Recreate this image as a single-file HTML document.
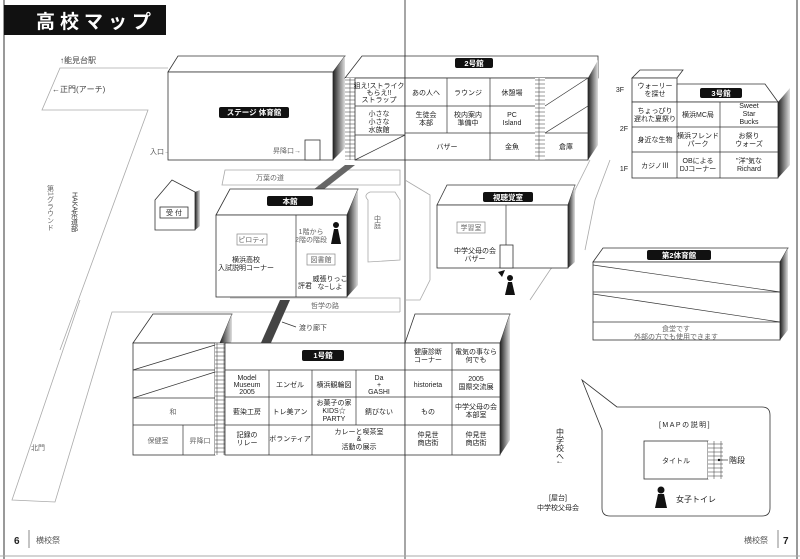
<!DOCTYPE html>
<html><head><meta charset="utf-8"><style>
html,body{margin:0;padding:0;background:#fff;}
svg{display:block;font-family:"Liberation Sans","Noto Sans CJK JP",sans-serif;}
.t{font-size:7px;fill:#222;text-anchor:middle;}
.g{font-size:7px;fill:#666;text-anchor:middle;}
.w{font-size:7.5px;fill:#fff;text-anchor:middle;font-weight:bold;}
.b{fill:#fff;stroke:#333;stroke-width:0.8;}
.l{stroke:#333;stroke-width:0.7;fill:none;}
.r{fill:none;stroke:#aaa;stroke-width:0.8;}
</style></head><body>
<svg width="800" height="559" viewBox="0 0 800 559">
<defs>
<linearGradient id="sd" x1="0" x2="1"><stop offset="0" stop-color="#222"/><stop offset="1" stop-color="#ddd"/></linearGradient>
<pattern id="st" width="7" height="4" patternUnits="userSpaceOnUse"><rect width="7" height="4" fill="#fff" stroke="#333" stroke-width="0.5"/></pattern>
</defs>
<line x1="4" y1="0" x2="4" y2="559" stroke="#999" stroke-width="2"/>
<line x1="797" y1="0" x2="797" y2="559" stroke="#999" stroke-width="2"/>
<line x1="405" y1="0" x2="405" y2="559" stroke="#888" stroke-width="1.5"/>
<line x1="0" y1="556" x2="800" y2="556" stroke="#aaa" stroke-width="1"/>
<rect x="4" y="5" width="162" height="30" fill="#111"/>
<text x="36" y="28" font-size="19" font-weight="bold" fill="#fff" letter-spacing="5">高校マップ</text>
<text x="60" y="63" font-size="8" fill="#444">↑能見台駅</text>
<text x="52" y="92" font-size="8" fill="#444">←正門(アーチ)</text>
<polyline class="r" points="168,68 60,68 42,110 148,110 60,350"/>
<polyline class="r" points="80,300 12,500 55,502 112,312 400,312"/>
<text x="38" y="450" class="g" font-size="8">北門</text>
<text x="150" y="154" font-size="7" fill="#555">入口→</text>
<text x="50" y="185" font-size="7" fill="#666" writing-mode="tb">第1グラウンド</text>
<text x="74" y="192" font-size="7" fill="#333" writing-mode="tb">HAKA茶道部</text>
<path class="r" d="M225,170 L400,170 L400,185 L222,185 Z"/>
<text x="270" y="180" class="g">万葉の道</text>
<path class="r" d="M230,298 L400,298 L400,312"/>
<text x="325" y="308" class="g">哲学の路</text>
<path class="r" d="M368,200 Q363,195 370,192 L395,192 L400,200 L400,260 L368,262 Z"/>
<text x="377" y="222" class="g" writing-mode="tb">中庭</text>
<polyline class="r" points="405,180 430,195 430,280 420,300 405,300"/>
<polyline class="r" points="590,160 575,190 570,245 550,270 530,300"/>
<polyline class="r" points="610,160 595,200 585,250"/>
<polygon class="b" points="168,72 178,56 345,56 333,72"/>
<rect class="b" x="168" y="72" width="165" height="88"/>
<polygon points="333,72 345,56 345,148 333,160" fill="url(#sd)"/>
<rect x="219" y="107" width="70" height="11" rx="2" fill="#111"/>
<text x="254" y="115" class="w">ステージ 体育館</text>
<rect class="b" x="305" y="140" width="15" height="20"/>
<text x="287" y="153" class="g">昇降口→</text>
<polygon class="b" points="345,78 362,56 405,56 405,78"/>
<rect x="345" y="78" width="10" height="82" fill="url(#st)"/>
<rect class="b" x="355" y="78" width="50" height="82"/>
<line class="l" x1="355" y1="106" x2="405" y2="106"/><line class="l" x1="355" y1="135" x2="405" y2="135"/>
<line class="l" x1="355" y1="160" x2="405" y2="135"/>
<text x="379" y="88" class="t" font-size="6">狙え!ストライク</text><text x="379" y="95" class="t" font-size="6">もらえ!!</text><text x="379" y="102" class="t" font-size="6">ストラップ</text>
<text x="379" y="116" class="t">小さな</text><text x="379" y="124" class="t">小さな</text><text x="379" y="132" class="t">水族館</text>
<polygon points="345,165 355,165 323,190 313,190" fill="#666"/>
<polygon points="280,300 290,300 270,345 260,345" fill="#444"/>
<line class="l" x1="282" y1="322" x2="296" y2="327"/><text x="299" y="330" font-size="7" fill="#444">渡り廊下</text>
<polygon class="b" points="405,78 405,56 598,56 598,78"/>
<rect class="b" x="405" y="78" width="183" height="82"/>
<polygon points="588,78 598,60 598,145 588,160" fill="url(#sd)"/>
<rect x="455" y="58" width="38" height="10" rx="2" fill="#111"/><text x="474" y="66" class="w">2号館</text>
<line class="l" x1="405" y1="106" x2="545" y2="106"/><line class="l" x1="405" y1="133" x2="545" y2="133"/>
<line class="l" x1="447" y1="78" x2="447" y2="133"/><line class="l" x1="490" y1="78" x2="490" y2="160"/>
<rect x="535" y="78" width="10" height="82" fill="url(#st)"/>
<line class="l" x1="545" y1="133" x2="588" y2="133"/><line class="l" x1="545" y1="106" x2="588" y2="78"/><line class="l" x1="545" y1="133" x2="588" y2="106"/>
<text x="426" y="95" class="t">あの人へ</text><text x="468" y="95" class="t">ラウンジ</text><text x="512" y="95" class="t">休憩場</text>
<text x="426" y="117" class="t">生徒会</text><text x="426" y="125" class="t">本部</text>
<text x="468" y="117" class="t">校内案内</text><text x="468" y="125" class="t">準備中</text>
<text x="512" y="117" class="t">PC</text><text x="512" y="125" class="t">Island</text>
<text x="447" y="149" class="t">バザー</text><text x="512" y="149" class="t">金魚</text><text x="566" y="149" class="t">倉庫</text>
<polygon class="b" points="632,78 640,70 683,70 677,78"/>
<rect class="b" x="632" y="78" width="45" height="24"/>
<polygon class="b" points="677,102 677,84 765,84 778,102"/>
<rect class="b" x="632" y="102" width="146" height="76"/>
<polygon points="778,102 790,88 790,165 778,178" fill="url(#sd)"/>
<rect x="700" y="88" width="42" height="10" rx="2" fill="#111"/><text x="721" y="96" class="w">3号館</text>
<line class="l" x1="632" y1="127" x2="778" y2="127"/><line class="l" x1="632" y1="152" x2="778" y2="152"/>
<line class="l" x1="677" y1="102" x2="677" y2="178"/><line class="l" x1="720" y1="102" x2="720" y2="178"/>
<text x="620" y="92" class="t">3F</text><text x="624" y="131" class="t">2F</text><text x="624" y="171" class="t">1F</text>
<text x="655" y="88" class="t">ウォーリー</text><text x="655" y="96" class="t">を探せ</text>
<text x="655" y="113" class="t">ちょっぴり</text><text x="655" y="121" class="t">遅れた夏祭り</text>
<text x="698" y="117" class="t">横浜MC局</text>
<text x="749" y="108" class="t">Sweet</text><text x="749" y="116" class="t">Star</text><text x="749" y="124" class="t">Bucks</text>
<text x="655" y="142" class="t">身近な生物</text>
<text x="698" y="138" class="t">横浜フレンド</text><text x="698" y="146" class="t">パーク</text>
<text x="749" y="138" class="t">お祭り</text><text x="749" y="146" class="t">ウォーズ</text>
<text x="655" y="168" class="t">カジノⅢ</text>
<text x="698" y="163" class="t">OBによる</text><text x="698" y="171" class="t">DJコーナー</text>
<text x="749" y="163" class="t">"洋"気な</text><text x="749" y="171" class="t">Richard</text>
<polygon class="b" points="155,200 172,180 195,192 195,230 155,230"/>
<polygon points="195,192 200,190 200,226 195,230" fill="url(#sd)"/>
<rect class="b" x="160" y="207" width="28" height="11"/><text x="174" y="215" class="t">受 付</text>
<polygon class="b" points="216,215 230,189 358,189 347,215"/>
<rect class="b" x="216" y="215" width="131" height="82"/>
<polygon points="347,215 358,189 358,285 347,297" fill="url(#sd)"/>
<line class="l" x1="296" y1="215" x2="296" y2="297"/>
<rect x="267" y="196" width="46" height="10" rx="2" fill="#111"/><text x="290" y="204" class="w">本館</text>
<rect x="237" y="234" width="30" height="11" fill="#fff" stroke="#888" stroke-width="0.7"/><text x="252" y="242" class="g">ピロティ</text>
<text x="246" y="262" class="t">横浜高校</text><text x="246" y="270" class="t">入試説明コーナー</text>
<text x="311" y="234" class="g">1階から</text><text x="311" y="242" class="g">2階の階段</text>
<rect x="307" y="254" width="28" height="11" fill="#fff" stroke="#888" stroke-width="0.7"/><text x="321" y="262" class="g">図書館</text>
<text x="305" y="288" class="t">評君</text><text x="330" y="281" class="t">威張りっこ</text><text x="330" y="289" class="t">な~しよ</text>
<g fill="#111"><circle cx="336" cy="225" r="3"/><polygon points="331,244 341,244 338,229 334,229"/></g>
<polygon class="b" points="437,205 447,185 575,185 568,205"/>
<rect class="b" x="437" y="205" width="131" height="63"/>
<polygon points="568,205 575,185 575,262 568,268" fill="url(#sd)"/>
<line class="l" x1="506" y1="205" x2="506" y2="268"/>
<rect x="483" y="192" width="50" height="10" rx="2" fill="#111"/><text x="508" y="200" class="w">視聴覚室</text>
<rect x="457" y="222" width="28" height="11" fill="#fff" stroke="#888" stroke-width="0.7"/><text x="471" y="230" class="g">学習室</text>
<text x="475" y="253" class="t">中学父母の会</text><text x="475" y="261" class="t">バザー</text>
<rect class="b" x="500" y="245" width="13" height="23"/>
<g fill="#111"><circle cx="510" cy="278" r="3"/><polygon points="505,295 515,295 512,282 508,282"/><polygon points="498,272 505,270 502,277"/></g>
<polygon class="b" points="593,262 603,248 788,248 780,262"/>
<rect class="b" x="593" y="262" width="187" height="78"/>
<polygon points="780,262 788,248 788,330 780,340" fill="url(#sd)"/>
<line class="l" x1="593" y1="292" x2="780" y2="292"/><line class="l" x1="593" y1="322" x2="780" y2="322"/>
<line class="l" x1="593" y1="265" x2="780" y2="292"/><line class="l" x1="593" y1="294" x2="780" y2="322"/>
<rect x="647" y="250" width="64" height="10" rx="2" fill="#111"/><text x="679" y="258" class="w">第2体育館</text>
<text x="676" y="331" class="g" font-size="6.5">食堂です</text><text x="676" y="339" class="g" font-size="6.5">外部の方でも使用できます</text>
<polygon class="b" points="133,343 153,314 232,314 220,343"/>
<polygon points="220,343 232,314 232,340 222,370" fill="url(#sd)"/>
<rect class="b" x="133" y="343" width="82" height="112"/>
<rect x="215" y="343" width="10" height="112" fill="url(#st)"/>
<line class="l" x1="133" y1="370" x2="215" y2="370"/><line class="l" x1="133" y1="398" x2="215" y2="398"/><line class="l" x1="133" y1="425" x2="215" y2="425"/>
<line class="l" x1="133" y1="370" x2="215" y2="345"/><line class="l" x1="133" y1="398" x2="215" y2="372"/>
<line class="l" x1="183" y1="425" x2="183" y2="455"/>
<text x="173" y="414" class="g">和</text><text x="158" y="443" class="g">保健室</text><text x="200" y="443" class="g">昇降口</text>
<rect class="b" x="225" y="343" width="180" height="112"/>
<line class="l" x1="225" y1="370" x2="405" y2="370"/><line class="l" x1="225" y1="397" x2="405" y2="397"/><line class="l" x1="225" y1="425" x2="405" y2="425"/>
<line class="l" x1="269" y1="370" x2="269" y2="455"/><line class="l" x1="312" y1="370" x2="312" y2="455"/>
<line class="l" x1="356" y1="370" x2="356" y2="425"/>
<rect x="302" y="350" width="42" height="11" rx="2" fill="#111"/><text x="323" y="358" class="w">1号館</text>
<text x="247" y="380" class="t">Model</text><text x="247" y="387" class="t">Museum</text><text x="247" y="394" class="t">2005</text>
<text x="290" y="387" class="t">エンゼル</text><text x="334" y="387" class="t">横浜観輪図</text>
<text x="379" y="380" class="t">Da</text><text x="379" y="387" class="t">+</text><text x="379" y="394" class="t">GASHI</text>
<text x="247" y="414" class="t">藍染工房</text><text x="290" y="414" class="t">トレ美アン</text>
<text x="334" y="405" class="t">お菓子の家</text><text x="334" y="413" class="t">KIDS☆</text><text x="334" y="421" class="t">PARTY</text>
<text x="379" y="414" class="t">錆びない</text>
<text x="247" y="437" class="t">記録の</text><text x="247" y="445" class="t">リレー</text><text x="290" y="441" class="t">ボランティア</text>
<text x="359" y="434" class="t">カレーと喫茶室</text><text x="359" y="441" class="t">&amp;</text><text x="359" y="449" class="t">活動の展示</text>
<polygon class="b" points="405,343 415,314 510,314 500,343"/>
<rect class="b" x="405" y="343" width="95" height="112"/>
<polygon points="500,343 510,314 510,440 500,455" fill="url(#sd)"/>
<line class="l" x1="405" y1="370" x2="500" y2="370"/><line class="l" x1="405" y1="397" x2="500" y2="397"/><line class="l" x1="405" y1="425" x2="500" y2="425"/>
<line class="l" x1="452" y1="343" x2="452" y2="455"/>
<text x="428" y="354" class="t">健康診断</text><text x="428" y="362" class="t">コーナー</text>
<text x="476" y="354" class="t">電気の事なら</text><text x="476" y="362" class="t">何でも</text>
<text x="428" y="387" class="t">historieta</text>
<text x="476" y="381" class="t">2005</text><text x="476" y="389" class="t">国際交流展</text>
<text x="428" y="414" class="t">もの</text>
<text x="476" y="409" class="t">中学父母の会</text><text x="476" y="417" class="t">本部室</text>
<text x="428" y="437" class="t">仲見世</text><text x="428" y="445" class="t">商店街</text>
<text x="476" y="437" class="t">仲見世</text><text x="476" y="445" class="t">商店街</text>
<text x="560" y="428" font-size="8" fill="#222" writing-mode="tb">中学校へ↓</text>
<text x="558" y="500" class="t" font-size="7.5">[屋台]</text><text x="558" y="510" class="t" font-size="7.5">中学校父母会</text>
<path d="M617,407 L582,380 L602,430 L602,508 Q602,516 610,516 L762,516 Q770,516 770,508 L770,415 Q770,407 762,407 Z" fill="#fff" stroke="#333" stroke-width="0.8"/>
<text x="685" y="427" class="t" font-size="9" letter-spacing="1.5">[MAPの説明]</text>
<rect class="b" x="644" y="441" width="64" height="38"/>
<rect x="708" y="441" width="15" height="38" fill="url(#st)"/>
<text x="676" y="463" class="t" font-size="8">タイトル</text>
<circle cx="719" cy="460" r="1.2" fill="#111"/><line class="l" x1="719" y1="460" x2="728" y2="460"/>
<text x="729" y="463" font-size="8" fill="#222">階段</text>
<g fill="#111"><circle cx="661" cy="490" r="3.5"/><polygon points="655,508 667,508 664,494 658,494"/></g>
<text x="676" y="502" font-size="8" fill="#222">女子トイレ</text>
<text x="14" y="544" font-size="10" font-weight="bold" fill="#222">6</text>
<line x1="29" y1="530" x2="29" y2="548" stroke="#888"/>
<text x="36" y="543" font-size="8" fill="#555">横校祭</text>
<text x="744" y="543" font-size="8" fill="#555">横校祭</text>
<line x1="778" y1="530" x2="778" y2="548" stroke="#888"/>
<text x="783" y="544" font-size="10" font-weight="bold" fill="#222">7</text>
</svg>
</body></html>
